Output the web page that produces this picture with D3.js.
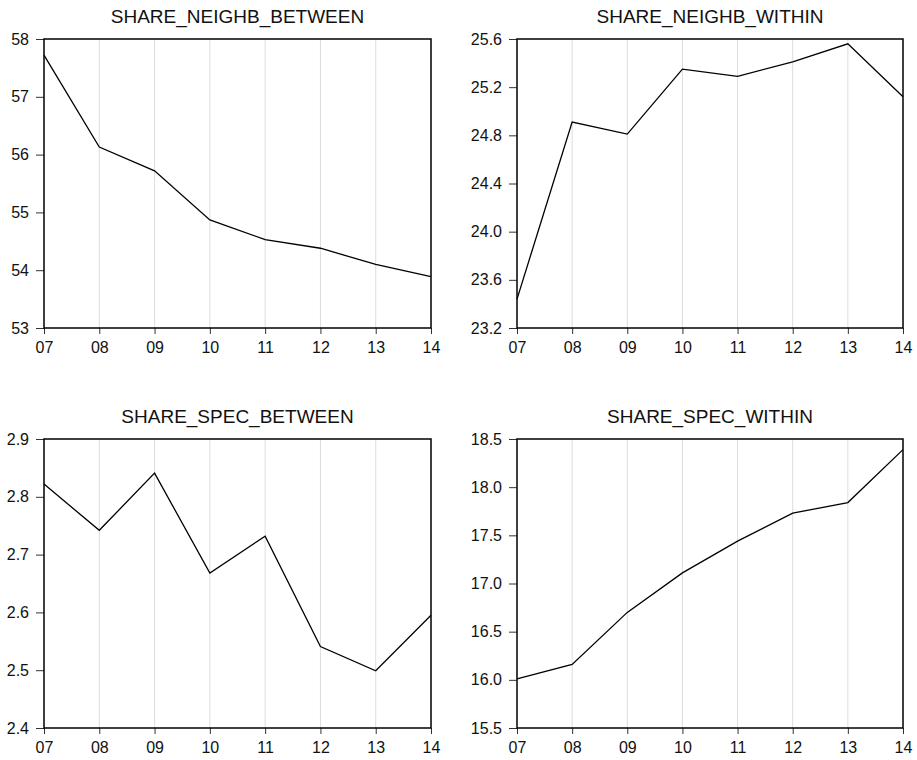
<!DOCTYPE html>
<html lang="en">
<head>
    <meta charset="utf-8">
    <title>Share panels</title>
    <style>
        body { margin: 0; background: #fff; font-family: "Liberation Sans", Arial, sans-serif; }
        .axis path { display: none; }
        .axis line { stroke: #333; }
        .axis text { font-size: 16px; fill: #111; font-family: "Liberation Sans", Arial, sans-serif; }
    </style>
    <script type="text/javascript" src="https://d3js.org/d3.v7.min.js"></script>
</head>
<body>
    <div class="chart"></div>
    <script type="text/javascript">
        // years on the x axis (two digit labels)
        const years = ["07", "08", "09", "10", "11", "12", "13", "14"];

        const neighbBetween = [57.72, 56.13, 55.72, 54.87, 54.53, 54.38, 54.10, 53.89];
        const neighbWithin  = [23.44, 24.91, 24.81, 25.35, 25.29, 25.41, 25.56, 25.12];
        const specBetween   = [2.822, 2.742, 2.841, 2.668, 2.732, 2.541, 2.499, 2.595];
        const specWithin    = [16.01, 16.16, 16.70, 17.11, 17.44, 17.73, 17.84, 18.39];

        const titles = ["SHARE_NEIGHB_BETWEEN", "SHARE_NEIGHB_WITHIN", "SHARE_SPEC_BETWEEN", "SHARE_SPEC_WITHIN"];
        const yTicks = [
            [53, 54, 55, 56, 57, 58],
            [23.2, 23.6, 24.0, 24.4, 24.8, 25.2, 25.6],
            [2.4, 2.5, 2.6, 2.7, 2.8, 2.9],
            [15.5, 16.0, 16.5, 17.0, 17.5, 18.0, 18.5]
        ];
        const yFormats = ["d", ".1f", ".1f", ".1f"];
        const series = [neighbBetween, neighbWithin, specBetween, specWithin];

        const svg = d3.select(".chart").append("svg")
            .attr("width", 917)
            .attr("height", 760);

        // plot boxes: left, top, width, height
        const boxes = [
            {x: 44,  y: 39,  w: 387, h: 289},
            {x: 517, y: 39,  w: 386, h: 289},
            {x: 44,  y: 439, w: 387, h: 289},
            {x: 517, y: 439, w: 386, h: 289}
        ];

        boxes.forEach((b, i) => {
            const g = svg.append("g").attr("transform", `translate(${b.x},${b.y})`);

            const xScale = d3.scalePoint().domain(years).range([0, b.w]);
            const ticks = yTicks[i];
            const yScale = d3.scaleLinear()
                .domain([ticks[0], ticks[ticks.length - 1]])
                .range([b.h, 0]);

            // vertical grid
            g.selectAll(".grid")
                .data(years.slice(1, -1))
                .enter()
                .append("line")
                .attr("x1", d => xScale(d))
                .attr("x2", d => xScale(d))
                .attr("y1", 0)
                .attr("y2", b.h)
                .attr("stroke", "#dcdcdc")
                .attr("stroke-width", 1);

            g.append("g")
                .attr("class", "axis")
                .call(d3.axisLeft(yScale).tickValues(ticks).tickSize(8).tickPadding(7).tickFormat(d3.format(yFormats[i])));

            g.append("g")
                .attr("class", "axis")
                .attr("transform", `translate(0,${b.h})`)
                .call(d3.axisBottom(xScale).tickSize(6).tickPadding(8));

            const line = d3.line()
                .x((d, j) => xScale(years[j]))
                .y(d => yScale(d));

            g.append("path")
                .datum(series[i])
                .attr("fill", "none")
                .attr("stroke", "#000")
                .attr("stroke-width", 1.3)
                .attr("d", line);

            g.append("rect")
                .attr("width", b.w)
                .attr("height", b.h)
                .attr("fill", "none")
                .attr("stroke", "#000")
                .attr("stroke-width", 1.5);

            g.append("text")
                .attr("x", b.w / 2)
                .attr("y", -16)
                .attr("text-anchor", "middle")
                .attr("font-size", 19)
                .attr("fill", "#111")
                .text(titles[i]);
        });
    </script>
</body>
</html>
